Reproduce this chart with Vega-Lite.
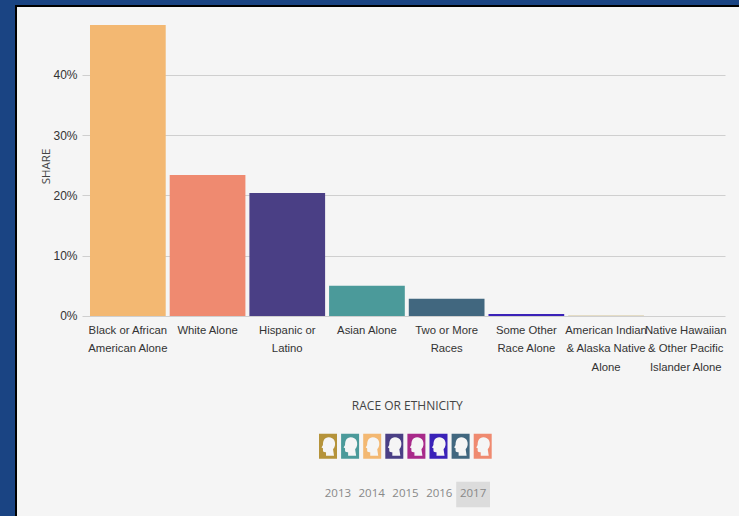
{"$schema":"https://vega.github.io/schema/vega-lite/v6.json","width":729,"height":516,"autosize":{"type":"none"},"padding":{"left":16,"top":6,"right":-6,"bottom":-6},"background":"#1a4483","view":{"fill":"#f5f5f5","stroke":"#000000","strokeWidth":2},
"layer":[
{"data":{"values":[{"year":"2013","selected":false},{"year":"2014","selected":false},{"year":"2015","selected":false},{"year":"2016","selected":false},{"year":"2017","selected":true}]},
"mark":{"type":"rect"},
"encoding":{"x":{"field":"year","type":"ordinal","axis":null,"scale":{"type":"band","paddingInner":0,"paddingOuter":0,"range":[305,474]}},"y":{"datum":-27.5,"type":"quantitative"},"y2":{"datum":-31.75},"fill":{"condition":{"test":"datum.selected","value":"#dcdcdc"},"value":"transparent"}}},
{"data":{"values":[{"year":"2013"},{"year":"2014"},{"year":"2015"},{"year":"2016"},{"year":"2017"}]},
"mark":{"type":"text","font":"Open Sans","fontSize":11.5,"color":"#888888","baseline":"middle"},
"encoding":{"x":{"field":"year","type":"ordinal","axis":null,"scale":{"type":"band","paddingInner":0,"paddingOuter":0,"range":[305,474]}},"y":{"datum":-29.6,"type":"quantitative"},"text":{"field":"year"}}},
{"data":{"values":[{"group":"Black or African American Alone","share":48.3},{"group":"White Alone","share":23.4},{"group":"Hispanic or Latino","share":20.4},{"group":"Asian Alone","share":5.0},{"group":"Two or More Races","share":2.85},{"group":"Some Other Race Alone","share":0.35},{"group":"American Indian & Alaska Native Alone","share":0.04},{"group":"Native Hawaiian & Other Pacific Islander Alone","share":0.02}]},
"mark":{"type":"bar"},
"encoding":{
"x":{"field":"group","type":"nominal","sort":null,"scale":{"type":"band","paddingInner":0.05,"paddingOuter":0.025,"range":[72,709.6]},
"axis":{"title":"RACE OR ETHNICITY","labelAngle":0,"domain":false,"ticks":false,"offset":-206,"labelPadding":8,"labelFont":"Liberation Sans","labelFontSize":11.3,"labelColor":"#333333","labelLineHeight":18.5,"labelBaseline":"top","labelLimit":200,"labelOverlap":false,"labelExpr":"{'Black or African American Alone':['Black or African','American Alone'],'White Alone':['White Alone'],'Hispanic or Latino':['Hispanic or','Latino'],'Asian Alone':['Asian Alone'],'Two or More Races':['Two or More','Races'],'Some Other Race Alone':['Some Other','Race Alone'],'American Indian & Alaska Native Alone':['American Indian','& Alaska Native','Alone'],'Native Hawaiian & Other Pacific Islander Alone':['Native Hawaiian','& Other Pacific','Islander Alone']}[datum.label]","titleFont":"Open Sans","titleFontSize":12,"titleFontWeight":"normal","titleColor":"#444444","titlePadding":28}},
"y":{"field":"share","type":"quantitative","scale":{"domain":[-34.19,51.45],"nice":false,"zero":false},
"axis":{"title":"SHARE","values":[0,10,20,30,40],"grid":false,"domain":false,"offset":-709,"tickSize":643,"tickColor":"#cfcfcf","tickWidth":1,"labelPadding":5,"labelFont":"Liberation Sans","labelFontSize":12,"labelColor":"#333333","labelExpr":"datum.value + '%'","titleFont":"Open Sans","titleFontSize":11.5,"titleFontWeight":"normal","titleColor":"#444444","titleX":-674,"titleY":160,"titleAngle":-90}},
"y2":{"datum":0},
"color":{"field":"group","type":"nominal","scale":{"domain":["American Indian & Alaska Native Alone","Asian Alone","Black or African American Alone","Hispanic or Latino","Native Hawaiian & Other Pacific Islander Alone","Some Other Race Alone","Two or More Races","White Alone"],"range":["#b5933a","#4b9a9a","#f3b872","#4a3f85","#a82a8a","#3a22b8","#41677f","#ef8a70"]},
"legend":{"title":null,"orient":"none","legendX":303,"legendY":431,"direction":"horizontal","columns":8,"symbolType":"M-1,-1.39 L1,-1.39 L1,1.39 L-1,1.39 Z M-.22,1.06 L.67,1.06 L.56,.33 C.83,.06 .83,-.33 .72,-.61 C.56,-1.06 -.22,-1.17 -.44,-.72 C-.56,-.5 -.56,-.28 -.56,-.14 L-.72,.14 L-.56,.22 L-.56,.5 C-.56,.67 -.28,.67 -.22,.67 Z","symbolSize":324,"symbolStrokeWidth":0,"symbolOpacity":1,"labelExpr":"''","labelOffset":0,"labelFontSize":1,"columnPadding":4.1,"padding":0}}}}
],
"resolve":{"scale":{"x":"independent"}}}
